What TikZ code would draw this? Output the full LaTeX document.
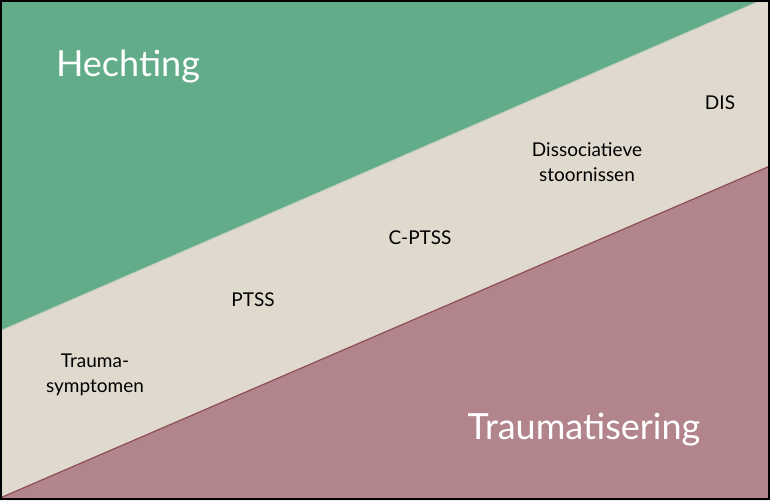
\documentclass[tikz,border=0pt]{standalone}
\usepackage{fontspec}
\setmainfont{Lato}
\definecolor{groen}{HTML}{62AC8A}
\definecolor{beige}{HTML}{E0D9CD}
\definecolor{mauve}{HTML}{B2858C}
\definecolor{mauvelijn}{HTML}{8E4E58}
\begin{document}
\begin{tikzpicture}[x=1pt,y=-1pt,
  big/.style={text=white,font=\fontsize{36}{40}\selectfont,inner sep=0},
  small/.style={text=black,font=\fontsize{19}{25}\selectfont,align=center,inner sep=0}]
\useasboundingbox (0,0) rectangle (770,500);
\fill[beige] (0,0) rectangle (770,500);
\fill[groen] (0,0) -- (762,0) -- (0,331) -- cycle;
\draw[line width=1pt,color=beige!80!groen] (762,0) -- (0,331);
\fill[mauve] (0,498) -- (770,166) -- (770,500) -- (0,500) -- cycle;
\draw[line width=1.2pt,mauvelijn] (0,498) -- (770,166);
\draw[line width=2pt] (1,1) rectangle (769,499);
\node[big] (h) at (128,67) {Hechting};
\node[big] (t) at (584,430) {Traumatisering};
\node[small] (ts) at (95,375) {Trauma-\\symptomen};
\node[small] (p) at (253,300) {PTSS};
\node[small] (c) at (420,238) {C-PTSS};
\node[small] (d) at (587,162) {Dissociatieve\\stoornissen};
\node[small] (dis) at (720,103) {DIS};
\end{tikzpicture}
\end{document}
